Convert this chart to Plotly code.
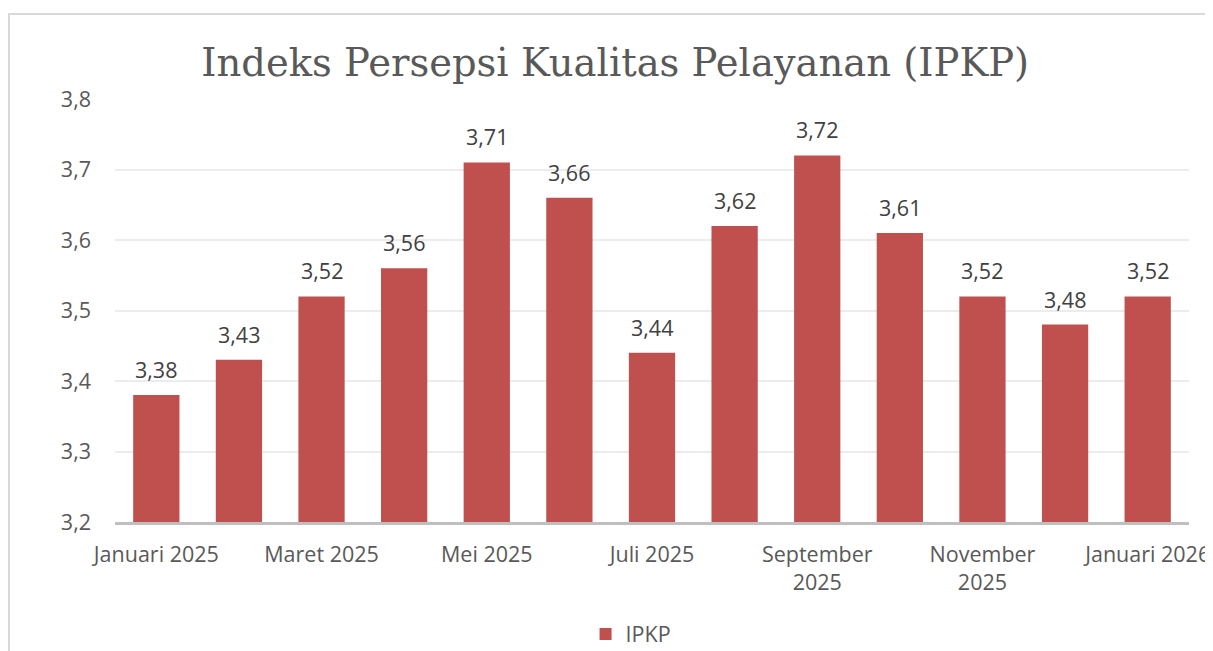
import plotly.graph_objects as go

months = ["Januari 2025", "Februari 2025", "Maret 2025", "April 2025", "Mei 2025", "Juni 2025",
          "Juli 2025", "Agustus 2025", "September 2025", "Oktober 2025", "November 2025",
          "Desember 2025", "Januari 2026"]
ipkp = [3.38, 3.43, 3.52, 3.56, 3.71, 3.66, 3.44, 3.62, 3.72, 3.61, 3.52, 3.48, 3.52]
tick_months = ["Januari 2025", "Maret 2025", "Mei 2025", "Juli 2025", "September 2025",
               "November 2025", "Januari 2026"]
tick_texts = ["Januari 2025", "Maret 2025", "Mei 2025", "Juli 2025", "September<br>2025",
              "November<br>2025", "Januari 2026"]
y_ticks = [3.2, 3.3, 3.4, 3.5, 3.6, 3.7, 3.8]

BAR = "#C0504D"
TXT = "#595959"
FONT = "Open Sans"
FS = 21.5

fig = go.Figure()
fig.add_trace(go.Bar(
    x=months, y=ipkp, name="IPKP", marker=dict(color=BAR, line=dict(width=0)),
    showlegend=True,
))

for m, v in zip(months, ipkp):
    fig.add_annotation(x=m, y=v, text=f"{v:.2f}".replace(".", ","), showarrow=False,
                       yanchor="bottom", yshift=9, font=dict(family=FONT, size=FS, color="#404040"))

fig.add_shape(type="rect", xref="paper", yref="paper", x0=-0.0987, x1=1.05, y0=-0.4, y1=1.201,
              line=dict(color="#d9d9d9", width=2), fillcolor="rgba(0,0,0,0)", layer="below")

fig.update_layout(
    width=1213, height=651,
    margin=dict(l=107, r=32, t=91, b=137),
    paper_bgcolor="white", plot_bgcolor="white",
    separators=",.",
    bargap=0.44,
    title=dict(text="Indeks Persepsi Kualitas Pelayanan (IPKP)", x=0.5006, xanchor="center",
               y=0.9155, yanchor="middle",
               font=dict(family="DejaVu Serif", size=38.5, color=TXT)),
    font=dict(family=FONT, size=FS, color=TXT),
    xaxis=dict(type="category", tickmode="array", tickvals=tick_months, ticktext=tick_texts,
               showline=True, linecolor="#bfbfbf", linewidth=3, ticks="", tickangle=0,
               ticklabelstandoff=11, automargin=False,
               tickfont=dict(family=FONT, size=FS, color=TXT), showgrid=False),
    yaxis=dict(range=[3.2, 3.8], tickvals=y_ticks, tickformat=".1f", showgrid=True,
               gridcolor="#ececec", gridwidth=1.5, zeroline=False, ticks="",
               ticklabelstandoff=23, automargin=False,
               tickfont=dict(family=FONT, size=FS, color=TXT)),
    legend=dict(orientation="h", x=0.4805, xanchor="center", yref="container", y=0.0384,
                yanchor="middle", font=dict(family=FONT, size=FS, color=TXT)),
)

fig.write_html("out.html")
